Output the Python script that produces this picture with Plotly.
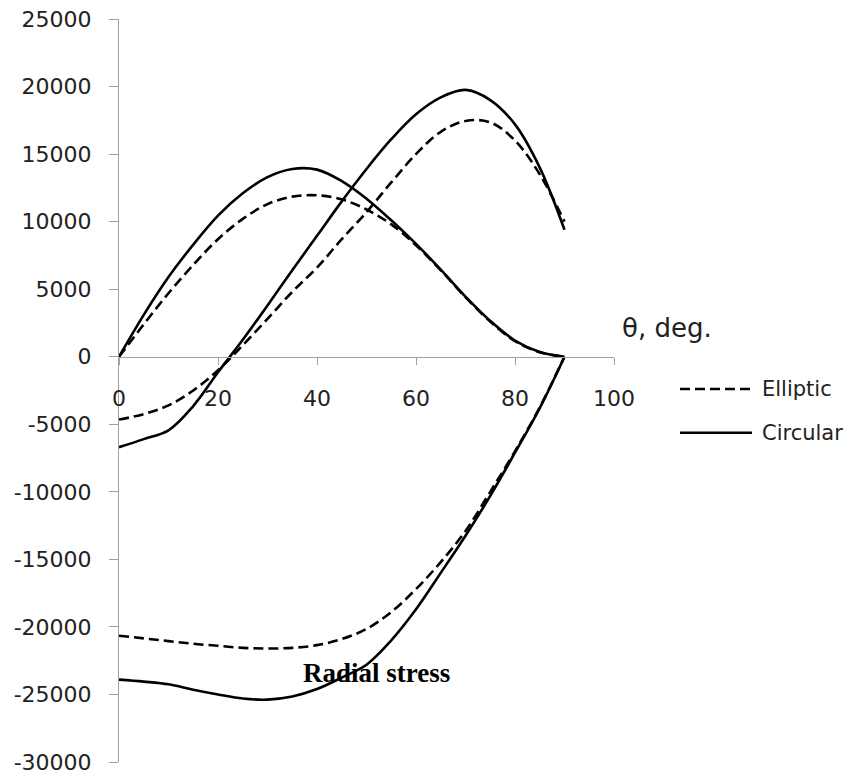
import plotly.graph_objects as go

theta = [0, 5, 10, 15, 20, 25, 30, 35, 40, 45, 50, 55, 60, 65, 70, 75, 80, 85, 90]

# Hoop-type stress curve peaking near 37-39 deg
hoop1_circ = [0, 3100, 5900, 8300, 10450, 12100, 13300, 13900, 13850, 13000, 11700, 10100, 8350, 6450, 4450, 2650, 1200, 350, 0]
hoop1_ell = [0, 2400, 4700, 6800, 8700, 10200, 11300, 11850, 11950, 11650, 10900, 9800, 8250, 6400, 4400, 2600, 1150, 330, 0]

# Second curve: negative at 0, peaks near 70 deg
hoop2_circ = [-6700, -6100, -5450, -3650, -1150, 1250, 3800, 6400, 8950, 11500, 13900, 16100, 17950, 19200, 19750, 19000, 17200, 14000, 9400]
hoop2_ell = [-4650, -4250, -3600, -2500, -1000, 850, 2800, 4800, 6600, 8700, 10700, 12900, 15000, 16650, 17450, 17350, 16000, 13500, 10000]

# Radial stress
rad_circ = [-23900, -24050, -24250, -24650, -25000, -25300, -25380, -25150, -24600, -23750, -22800, -21000, -18700, -16000, -13250, -10300, -7100, -3800, 0]
rad_ell = [-20650, -20850, -21050, -21250, -21400, -21550, -21600, -21550, -21350, -20900, -20150, -18900, -17200, -15200, -12900, -10000, -7000, -3750, 0]

series_names = ["Elliptic", "Circular"]
x_ticks = [0, 20, 40, 60, 80, 100]
y_ticks = [-30000, -25000, -20000, -15000, -10000, -5000, 0, 5000, 10000, 15000, 20000, 25000]

fig = go.Figure()
LW = 2.6
DASH = "10px,5px"
for ys in [hoop1_ell, hoop2_ell, rad_ell]:
    fig.add_trace(go.Scatter(x=theta, y=ys, mode="lines", showlegend=False,
                             line=dict(color="black", width=LW, dash=DASH, shape="spline", smoothing=1.0)))
for ys in [hoop1_circ, hoop2_circ, rad_circ]:
    fig.add_trace(go.Scatter(x=theta, y=ys, mode="lines", showlegend=False,
                             line=dict(color="black", width=LW, shape="spline", smoothing=1.0)))

axis_col = "#a0a0a0"
font_ticks = dict(family="DejaVu Sans", size=22, color="#222222")

y0_frac = 30000 / 55000

fig.update_layout(
    width=852, height=774,
    margin=dict(l=119, r=238, t=19, b=12),
    plot_bgcolor="white", paper_bgcolor="white",
    xaxis=dict(range=[0, 100], tickvals=x_ticks, ticktext=[str(v) for v in x_ticks],
               showgrid=False, zeroline=False, showline=True, linecolor=axis_col, linewidth=1,
               ticks="outside", ticklen=7, tickcolor=axis_col, tickfont=font_ticks,
               anchor="free", position=y0_frac, ticklabelstandoff=15, automargin=False,
               ticklabeloverflow="allow"),
    yaxis=dict(range=[-30000, 25000], tickvals=y_ticks, ticktext=[str(v) for v in y_ticks],
               showgrid=False, zeroline=False, showline=True, linecolor=axis_col, linewidth=1,
               ticks="outside", ticklen=9, tickcolor=axis_col, tickfont=font_ticks,
               ticklabelstandoff=13, automargin=False, ticklabeloverflow="allow"),
)

# Custom legend (line samples + labels)
leg_x0, leg_x1 = 1.1333, 1.2788
leg_y = [0.502, 0.4432]
for name, yy in zip(series_names, leg_y):
    fig.add_shape(type="line", xref="paper", yref="paper", x0=leg_x0, x1=leg_x1, y0=yy, y1=yy,
                  line=dict(color="black", width=LW, dash=(DASH if name == "Elliptic" else "solid")))
    fig.add_annotation(xref="paper", yref="paper", x=1.295, y=yy, text=name, showarrow=False,
                       xanchor="left", yanchor="middle",
                       font=dict(family="DejaVu Sans", size=21, color="#222222"))

fig.add_annotation(xref="paper", yref="paper", x=1.108, y=0.584, text="θ, deg.", showarrow=False,
                   xanchor="center", yanchor="middle",
                   font=dict(family="DejaVu Sans", size=26, color="#222222"))

fig.add_annotation(x=52.1, y=-23385, text="<b>Radial stress</b>", showarrow=False,
                   xanchor="center", yanchor="middle",
                   font=dict(family="Liberation Serif", size=27, color="black"))

fig.write_html("out.html", config={"displayModeBar": False},
               post_script="document.body.style.margin='0px';document.body.style.overflow='hidden';")
